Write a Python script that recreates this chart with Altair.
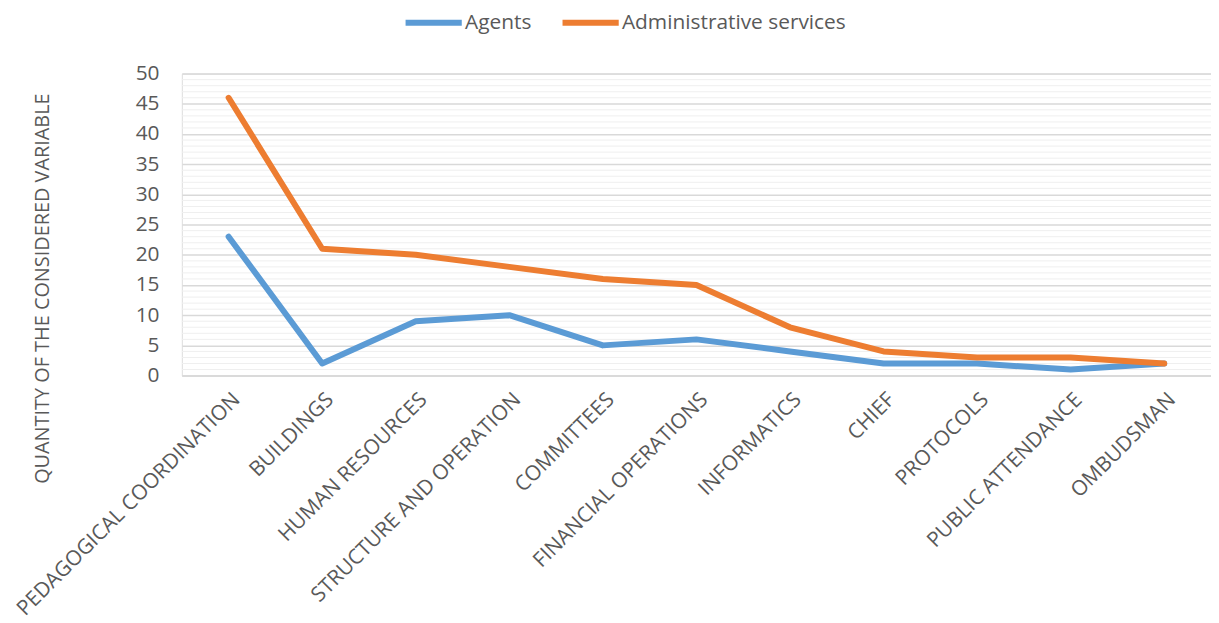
import altair as alt
import pandas as pd

categories = ["PEDAGOGICAL COORDINATION", "BUILDINGS", "HUMAN RESOURCES",
              "STRUCTURE AND OPERATION", "COMMITTEES", "FINANCIAL OPERATIONS",
              "INFORMATICS", "CHIEF", "PROTOCOLS", "PUBLIC ATTENDANCE", "OMBUDSMAN"]
agents = [23, 2, 9, 10, 5, 6, 4, 2, 2, 1, 2]
admin = [46, 21, 20, 18, 16, 15, 8, 4, 3, 3, 2]
series_names = ["Agents", "Administrative services"]
series_colors = ["#5B9BD5", "#ED7D31"]
y_ticks = [0, 5, 10, 15, 20, 25, 30, 35, 40, 45, 50]
minor_grid = [v for v in range(0, 51) if v % 5 != 0]

rows = []
for i, c in enumerate(categories):
    rows.append({"cat": c, "series": series_names[0], "value": agents[i], "order": i})
    rows.append({"cat": c, "series": series_names[1], "value": admin[i], "order": i})
df = pd.DataFrame(rows)
grid_df = pd.DataFrame({"value": minor_grid})

FONT = "Open Sans"
GRAY = "#595959"
FS = 21

yscale = alt.Scale(domain=[0, 50], nice=False, zero=True)
yaxis = alt.Axis(title="QUANTITY OF THE CONSIDERED VARIABLE", values=y_ticks,
                 titleFont=FONT, titleFontSize=20, titleFontWeight="normal",
                 titleColor=GRAY, titleX=-130, titleY=216, titleAngle=-90,
                 labelFont=FONT, labelFontSize=FS, labelColor=GRAY,
                 ticks=False, domain=False, grid=True, gridColor="#d9d9d9",
                 gridWidth=1.5, labelPadding=23)

minor = alt.Chart(grid_df).mark_rule(color="#efefef", strokeWidth=1).encode(
    y=alt.Y("value:Q", scale=yscale, axis=yaxis)
)

lines = alt.Chart(df).mark_line(strokeWidth=6, strokeCap="round", strokeJoin="round").encode(
    x=alt.X("cat:N", sort=categories, scale=alt.Scale(type="point", padding=0.5),
            axis=alt.Axis(title=None, labelAngle=-45, labelFont=FONT, labelFontSize=FS,
                          labelColor=GRAY, ticks=False, domain=True, domainColor="#d9d9d9",
                          domainWidth=1.5, grid=False, labelPadding=13, labelLimit=500)),
    y=alt.Y("value:Q", scale=yscale, axis=yaxis),
    color=alt.Color("series:N", sort=series_names,
                    scale=alt.Scale(domain=series_names, range=series_colors),
                    legend=alt.Legend(title=None, orient="none", legendX=222, legendY=-83,
                                      direction="horizontal", symbolType="stroke",
                                      symbolSize=3200, symbolStrokeWidth=6,
                                      labelFont=FONT, labelFontSize=FS, labelColor=GRAY,
                                      columnPadding=19, labelOffset=0, padding=0,
                                      labelLimit=500)),
    order="order:Q",
)

chart = alt.layer(minor, lines).properties(
    width=1036, height=304,
    autosize=alt.AutoSizeParams(type="none"),
    padding={"left": 175, "top": 64, "right": 0, "bottom": 246},
).configure_view(stroke=None).configure(background="white")

chart.save("out.html", embed_options={"renderer": "svg", "actions": False})
